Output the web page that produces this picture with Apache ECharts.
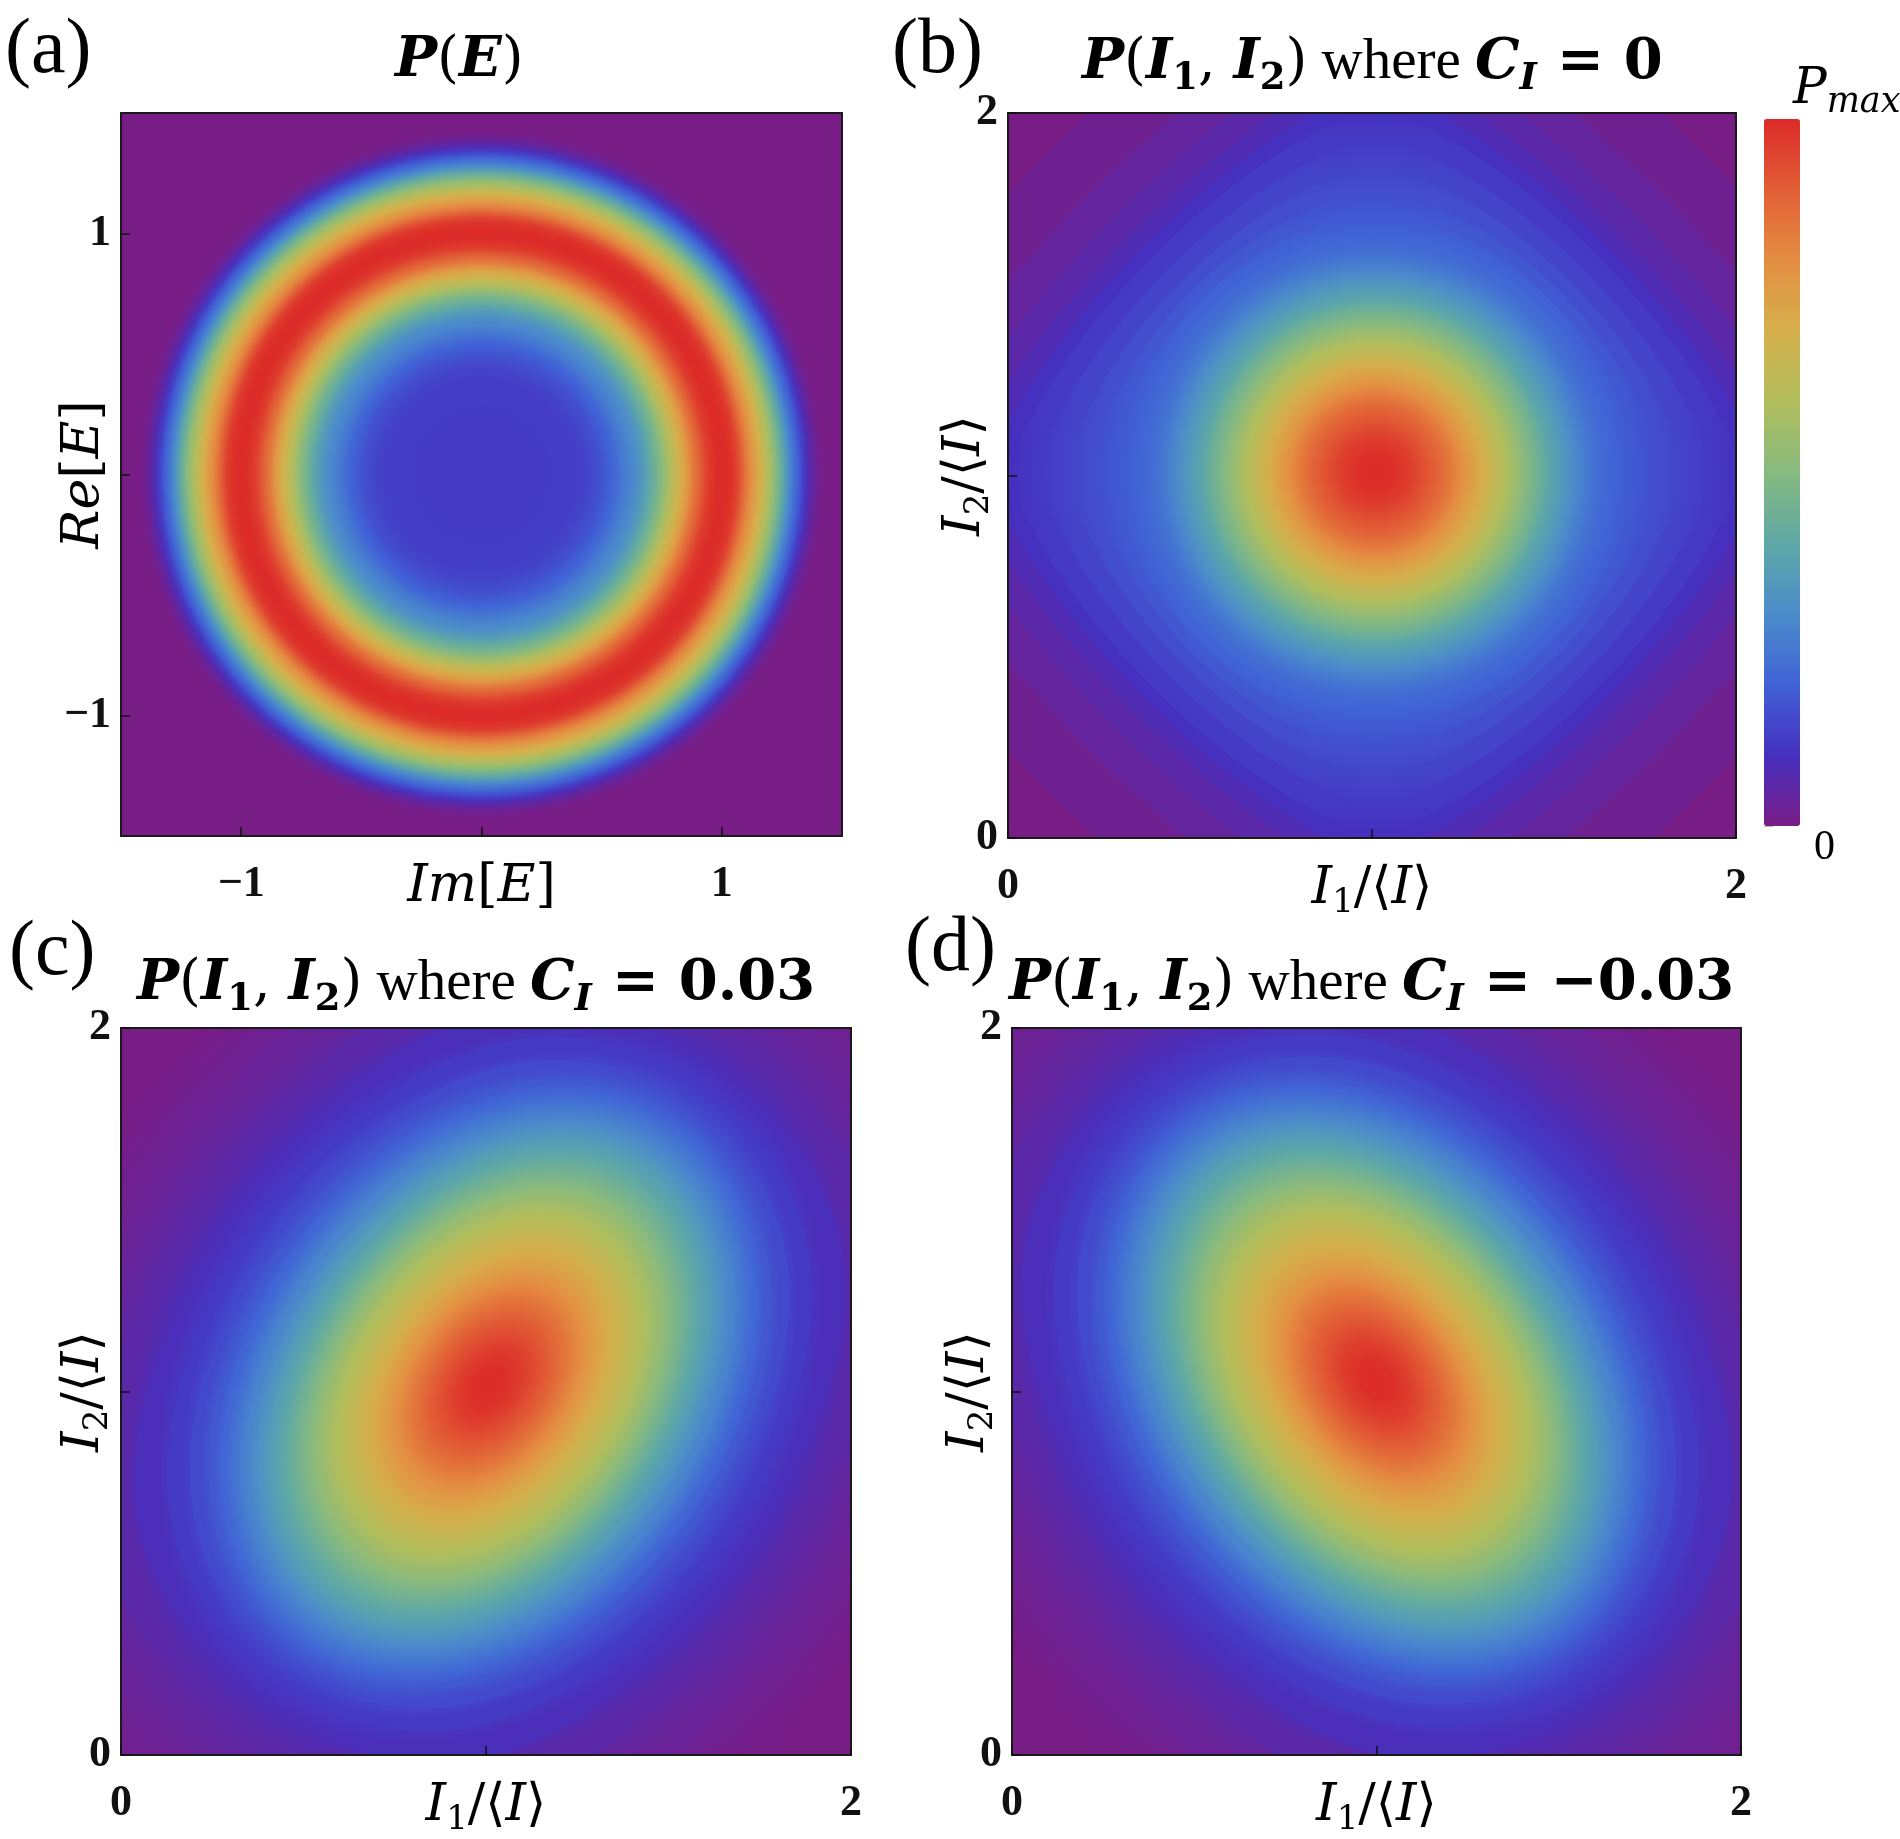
<!DOCTYPE html>
<html>
<head>
<meta charset="utf-8">
<style>
  html, body { margin: 0; padding: 0; background: #fff; }
  #chart { width: 1900px; height: 1839px; }
</style>
<script src="https://cdn.jsdelivr.net/npm/echarts@6/dist/echarts.min.js"></script>
</head>
<body>
<div id="chart"></div>
<script>
// (a) P(E): radial profile of the ring, read along a radius (|E| -> P/Pmax)
const ringRadius = [0, 0.1, 0.2, 0.3, 0.4, 0.44, 0.48, 0.5, 0.52, 0.54, 0.56, 0.58, 0.6, 0.62, 0.64, 0.66,
  0.68, 0.7, 0.72, 0.74, 0.76, 0.78, 0.8, 0.82, 0.84, 0.86, 0.88, 0.9, 0.92, 0.94, 0.96, 0.98, 1.0,
  1.02, 1.04, 1.06, 1.08, 1.1, 1.12, 1.14, 1.16, 1.18, 1.2, 1.22, 1.24, 1.26, 1.28, 1.3, 1.32, 1.34,
  1.36, 1.38, 1.4, 1.42, 1.44]
const ringValue = [0.12, 0.12, 0.12, 0.125, 0.13, 0.14, 0.16, 0.17, 0.185, 0.2, 0.22, 0.245, 0.265, 0.285,
  0.3, 0.33, 0.36, 0.4, 0.44, 0.48, 0.53, 0.58, 0.63, 0.68, 0.73, 0.78, 0.84, 0.88, 0.92, 0.96, 0.98,
  0.995, 1.0, 0.995, 0.985, 0.96, 0.91, 0.85, 0.8, 0.75, 0.7, 0.64, 0.58, 0.52, 0.45, 0.38, 0.3, 0.24,
  0.19, 0.13, 0.08, 0.045, 0.02, 0.005, 0]

// (b) C_I = 0 : contour levels, half width along the I axes, squareness of the level (2 = circle)
const bLevels = [0, 0.02, 0.04, 0.06, 0.08, 0.1, 0.12, 0.14, 0.16, 0.18, 0.2, 0.22, 0.24, 0.28, 0.32,
  0.36, 0.4, 0.44, 0.48, 0.52, 0.56, 0.6, 0.64, 0.68, 0.72, 0.76, 0.8, 0.84, 0.88, 0.92, 0.96, 0.99]
const bHalf = [1.55, 1.35, 1.22, 1.13, 1.06, 1.0, 0.92, 0.84, 0.77, 0.71, 0.66, 0.625, 0.595, 0.56, 0.53,
  0.5, 0.47, 0.45, 0.425, 0.4, 0.38, 0.355, 0.33, 0.31, 0.285, 0.26, 0.235, 0.21, 0.18, 0.14, 0.1, 0.05]
const bShape = [1.25, 1.25, 1.28, 1.3, 1.33, 1.37, 1.42, 1.5, 1.62, 1.75, 1.87, 1.95, 2, 2, 2, 2, 2, 2,
  2, 2, 2, 2, 2, 2, 2, 2, 2, 2, 2, 2, 2, 2]

// (c), (d): contour levels of P(I1,I2)/Pmax
const levels = [0, 0.03, 0.06, 0.09, 0.12, 0.15, 0.18, 0.21, 0.24, 0.28, 0.32, 0.36, 0.4, 0.44, 0.48,
  0.52, 0.56, 0.6, 0.64, 0.68, 0.72, 0.76, 0.8, 0.84, 0.88, 0.92, 0.96, 0.99]

// (c) C_I = 0.03 : half lengths along / across the tilted axis, squareness
const cMajor = [1.55, 1.3, 1.15, 1.06, 0.99, 0.94, 0.9, 0.87, 0.84, 0.8, 0.765, 0.73, 0.69, 0.655, 0.62,
  0.585, 0.55, 0.51, 0.47, 0.43, 0.39, 0.35, 0.31, 0.27, 0.225, 0.175, 0.12, 0.06]
const cMinor = [1.25, 1.05, 0.92, 0.83, 0.76, 0.71, 0.67, 0.64, 0.615, 0.575, 0.545, 0.515, 0.485, 0.46,
  0.435, 0.41, 0.385, 0.355, 0.325, 0.295, 0.268, 0.24, 0.213, 0.185, 0.155, 0.12, 0.083, 0.042]
const cShape = [3.0, 2.8, 2.6, 2.45, 2.3, 2.2, 2.1, 2.05, 2, 2, 2, 2, 2, 2, 2, 2, 2, 2, 2, 2, 2, 2, 2, 2, 2, 2, 2, 2]

// (d) C_I = -0.03
const dMajor = [1.55, 1.3, 1.15, 1.06, 0.99, 0.94, 0.9, 0.87, 0.84, 0.8, 0.765, 0.73, 0.69, 0.655, 0.62,
  0.585, 0.55, 0.51, 0.47, 0.43, 0.39, 0.35, 0.31, 0.27, 0.225, 0.175, 0.12, 0.06]
const dMinor = [1.25, 1.05, 0.92, 0.83, 0.76, 0.71, 0.67, 0.64, 0.615, 0.575, 0.545, 0.515, 0.485, 0.46,
  0.435, 0.41, 0.385, 0.355, 0.325, 0.295, 0.268, 0.24, 0.213, 0.185, 0.155, 0.12, 0.083, 0.042]
const dShape = [3.0, 2.8, 2.6, 2.45, 2.3, 2.2, 2.1, 2.05, 2, 2, 2, 2, 2, 2, 2, 2, 2, 2, 2, 2, 2, 2, 2, 2, 2, 2, 2, 2]

const colorbarTicks = [0, 1, 2, 3, 4, 5, 6, 7, 8, 9, 10, 11, 12, 13, 14, 15, 16, 17]

const rainbow = ['#781c86', '#4630bf', '#4062d6', '#4b8ccb', '#5ea8a6', '#86ba7f',
  '#b2be5c', '#d5b04c', '#e48e42', '#e25e36', '#dc2a28']

const chart = echarts.init(document.getElementById('chart'))
const toColor = (p) => echarts.color.lerp(Math.max(0, Math.min(1, p)), rainbow)

// one filled level: a (tilted) super-ellipse, shaded from its own level at the rim
// to the next inner level, so neighbouring levels blend without steps
function levelShape(cx, cy, tiltDeg) {
  const rot = (tiltDeg * Math.PI) / 180
  const R = 100
  return function (params, api) {
    const a = api.value(1)
    const b = api.value(2)
    const e = 2 / api.value(3)
    const inner = api.value(5)
    const unit = api.size([1, 1])
    const center = api.coord([cx, cy])
    const pts = []
    for (let i = 0; i < 180; i++) {
      const t = (i / 180) * Math.PI * 2
      const c = Math.cos(t)
      const s = Math.sin(t)
      pts.push([R * Math.sign(c) * Math.pow(Math.abs(c), e), R * Math.sign(s) * Math.pow(Math.abs(s), e)])
    }
    const cIn = toColor(api.value(4))
    return {
      type: 'polygon',
      x: center[0],
      y: center[1],
      rotation: rot,
      scaleX: (a * unit[0]) / R,
      scaleY: (b * unit[1]) / R,
      shape: { points: pts },
      style: {
        fill: {
          type: 'radial',
          x: 0.5,
          y: 0.5,
          r: 0.5,
          colorStops: [
            { offset: 0, color: cIn },
            { offset: inner, color: cIn },
            { offset: 1, color: toColor(api.value(0)) },
          ],
        },
      },
    }
  }
}

// [value at rim, half axis 1, half axis 2, squareness, value of next inner level, its size ratio]
const ringData = []
for (let k = ringRadius.length - 1; k >= 1; k--) {
  const r = ringRadius[k]
  ringData.push([ringValue[k], r, r, 2, ringValue[k - 1], ringRadius[k - 1] / r])
}
function levelData(lv, major, minor, shape) {
  return lv.map((p, i) => {
    const last = i === lv.length - 1
    return [p, major[i], minor[i], shape[i], last ? 1 : lv[i + 1], last ? 0 : major[i + 1] / major[i]]
  })
}
const bData = levelData(bLevels, bHalf, bHalf, bShape)
const cData = levelData(levels, cMajor, cMinor, cShape)
const dData = levelData(levels, dMajor, dMinor, dShape)

const grids = [
  { left: 121, top: 113, width: 721, height: 723 },
  { left: 1008, top: 113, width: 728, height: 725 },
  { left: 121, top: 1028, width: 730, height: 727 },
  { left: 1012, top: 1028, width: 729, height: 727 },
]

const nameRich = {
  i: { fontFamily: 'DejaVu Serif', fontStyle: 'italic', fontSize: 52, lineHeight: 62, verticalAlign: 'middle', color: '#000' },
  r: { fontFamily: 'DejaVu Serif', fontSize: 52, lineHeight: 62, verticalAlign: 'middle', color: '#000' },
  s: { fontFamily: 'DejaVu Serif', fontSize: 34, lineHeight: 26, verticalAlign: 'bottom', color: '#000' },
}

const fmt = (v) => (v < 0 ? '\u2212' + Math.abs(v) : String(v))

function axisPair(gi, range, tickVals, labelVals, name, gap, horizontal) {
  const [min, max, interval] = range
  const line = { show: true, onZero: false, lineStyle: { color: '#1a1a1a', width: 2 } }
  const main = {
    gridIndex: gi,
    type: 'value',
    position: horizontal ? 'bottom' : 'left',
    min,
    max,
    interval,
    z: 10,
    axisLine: line,
    axisTick: { show: true, inside: true, length: 9, customValues: tickVals, lineStyle: { color: '#111', width: 1.5 } },
    axisLabel: {
      customValues: labelVals,
      formatter: fmt,
      margin: horizontal ? 27 : 10,
      fontFamily: 'Liberation Serif',
      fontWeight: 'bold',
      fontSize: 44,
      color: '#111',
    },
    splitLine: { show: false },
    name,
    nameLocation: 'middle',
    nameGap: gap,
    nameMoveOverlap: false,
    nameTextStyle: { rich: nameRich },
  }
  const side = {
    gridIndex: gi,
    type: 'value',
    position: horizontal ? 'top' : 'right',
    min,
    max,
    interval,
    z: 10,
    axisLine: line,
    axisTick: { show: false },
    axisLabel: { show: false },
    splitLine: { show: false },
  }
  return [main, side]
}

const rangeA = [-1.5, 1.5, 0.5]
const rangeI = [0, 2, 1]
const i1Name = '{i|I}{s|1}{r|/\u27E8}{i|I}{r|\u27E9}'
const i2Name = '{i|I}{s|2}{r|/\u27E8}{i|I}{r|\u27E9}'

const xAxes = [
  ...axisPair(0, rangeA, [-1, 0, 1], [-1, 1], '{i|Im}{r|[}{i|E}{r|]}', 20, true),
  ...axisPair(1, rangeI, [0, 1, 2], [0, 2], i1Name, 20, true),
  ...axisPair(2, rangeI, [0, 1, 2], [0, 2], i1Name, 20, true),
  ...axisPair(3, rangeI, [0, 1, 2], [0, 2], i1Name, 20, true),
  { gridIndex: 4, type: 'value', show: false, min: 0, max: 1 },
]
const yAxes = [
  ...axisPair(0, rangeA, [-1, 0, 1], [-1, 1], '{i|Re}{r|[}{i|E}{r|]}', 6, false),
  ...axisPair(1, rangeI, [0, 1, 2], [0, 2], i2Name, 12, false),
  ...axisPair(2, rangeI, [0, 1, 2], [0, 2], i2Name, 6, false),
  ...axisPair(3, rangeI, [0, 1, 2], [0, 2], i2Name, 12, false),
  {
    gridIndex: 4,
    type: 'value',
    position: 'right',
    min: 0,
    max: 17.7,
    interval: 1,
    axisLine: { show: false },
    axisTick: { show: true, length: 9, customValues: colorbarTicks, lineStyle: { color: '#b5b5b5', width: 1 } },
    axisLabel: { show: false },
    splitLine: { show: false },
  },
]

const txt = { color: '#000', fontWeight: 'normal', fontStyle: 'normal' }
const titleRich = {
  bi: { ...txt, fontFamily: 'DejaVu Serif', fontStyle: 'italic', fontWeight: 'bold', fontSize: 56, lineHeight: 70, verticalAlign: 'middle' },
  b: { ...txt, fontFamily: 'DejaVu Serif', fontWeight: 'bold', fontSize: 56, lineHeight: 70, verticalAlign: 'middle' },
  eq: { ...txt, fontFamily: 'DejaVu Serif', fontWeight: 'bold', fontSize: 56, lineHeight: 70, verticalAlign: 'middle', padding: [0, 20, 0, 20] },
  up: { ...txt, fontFamily: 'DejaVu Serif', fontSize: 56, lineHeight: 70, verticalAlign: 'middle' },
  sb: { ...txt, fontFamily: 'DejaVu Serif', fontWeight: 'bold', fontSize: 37, lineHeight: 30, verticalAlign: 'bottom' },
  sbi: { ...txt, fontFamily: 'DejaVu Serif', fontStyle: 'italic', fontWeight: 'bold', fontSize: 37, lineHeight: 30, verticalAlign: 'bottom' },
  w: { ...txt, fontFamily: 'Liberation Serif', fontSize: 57, lineHeight: 70, verticalAlign: 'middle' },
  lab: { ...txt, fontFamily: 'Liberation Serif', fontSize: 78, lineHeight: 86, verticalAlign: 'middle' },
  pi: { ...txt, fontFamily: 'DejaVu Serif', fontStyle: 'italic', fontSize: 50, lineHeight: 60, verticalAlign: 'middle' },
  ps: { ...txt, fontFamily: 'DejaVu Serif', fontStyle: 'italic', fontSize: 35, lineHeight: 26, verticalAlign: 'bottom' },
  z: { ...txt, fontFamily: 'Liberation Serif', fontSize: 42, lineHeight: 44, verticalAlign: 'middle' },
}

const pI = '{bi|P}{up|(}{bi|I}{sb|1}{up|, }{bi|I}{sb|2}{up|)}{w| where }{bi|C}{sbi|I}'
const titleBase = {
  padding: 0,
  textStyle: { fontFamily: 'Liberation Serif', fontSize: 48, fontWeight: 'normal', color: '#000', rich: titleRich },
}
const titles = [
  { text: '{lab|(a)}', left: 5, top: 9 },
  { text: '{bi|P}{up|(}{bi|E}{up|)}', left: 395, top: 26 },
  { text: '{lab|(b)}', left: 892, top: 9 },
  { text: pI + '{eq|=}{b|0}', left: 1082, top: 28 },
  { text: '{lab|(c)}', left: 9, top: 911 },
  { text: pI + '{eq|=}{b|0.03}', left: 137, top: 949 },
  { text: '{lab|(d)}', left: 905, top: 907 },
  { text: pI + '{eq|=}{b|\u22120.03}', left: 1009, top: 949 },
  { text: '{pi|P}{ps|max}', left: 1793, top: 60 },
  { text: '{z|0}', left: 1814, top: 826 },
].map((t) => ({ ...titleBase, ...t }))

const series = [
  { data: ringData, renderItem: levelShape(0, 0, 0), axis: 0 },
  { data: bData, renderItem: levelShape(1.01, 1.01, 0), axis: 2 },
  { data: cData, renderItem: levelShape(1.01, 1.02, 54), axis: 4 },
  { data: dData, renderItem: levelShape(1.0, 1.03, -54), axis: 6 },
].map((s) => ({
  type: 'custom',
  xAxisIndex: s.axis,
  yAxisIndex: s.axis,
  data: s.data,
  renderItem: s.renderItem,
  clip: true,
  silent: true,
  animation: false,
}))

chart.setOption({
  animation: false,
  backgroundColor: '#fff',
  title: titles,
  grid: [
    ...grids.map((g) => ({ ...g, show: true, borderWidth: 0, backgroundColor: rainbow[0] })),
    { left: 1764, top: 119, width: 36, height: 707 },
  ],
  xAxis: xAxes,
  yAxis: yAxes,
  visualMap: {
    type: 'continuous',
    min: 0,
    max: 1,
    dimension: 0,
    seriesIndex: [],
    calculable: false,
    hoverLink: false,
    orient: 'vertical',
    left: 1764,
    top: 119,
    itemWidth: 36,
    itemHeight: 707,
    padding: 0,
    text: null,
    inRange: { color: rainbow },
  },
  series,
})
</script>
</body>
</html>
